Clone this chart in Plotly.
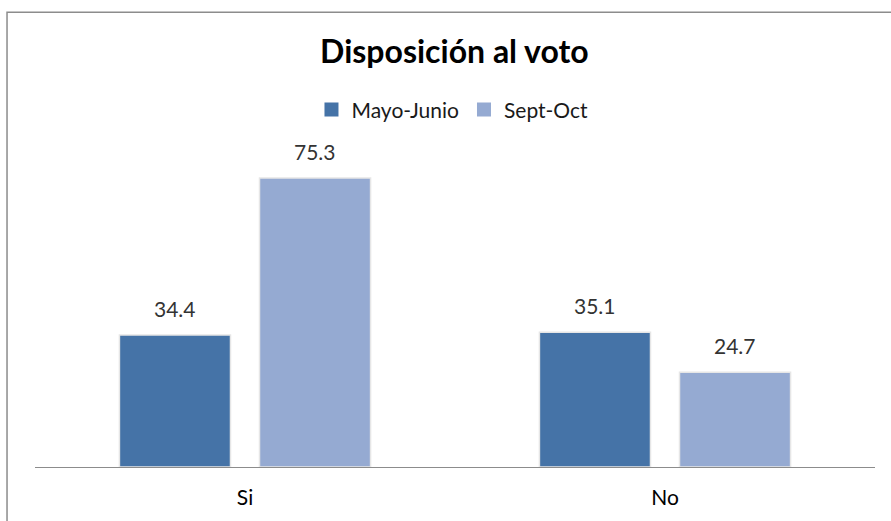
import plotly.graph_objects as go

categories = ["Si", "No"]
series_names = ["Mayo-Junio", "Sept-Oct"]
mayo_junio = [34.4, 35.1]
sept_oct = [75.3, 24.7]
colors = ["#4573A7", "#95AAD2"]

values = [mayo_junio, sept_oct]
xpos = list(range(len(categories)))
FONT = "Lato, 'Open Sans', sans-serif"

fig = go.Figure()
offsets = [-1/6, 1/6]
annotations = []
for name, vals, col, off in zip(series_names, values, colors, offsets):
    fig.add_trace(go.Bar(
        name=name, x=xpos, y=vals, showlegend=False,
        marker=dict(color=col, line=dict(color="#E6E6E6", width=1.5)),
        hoverinfo="skip",
    ))
    for xi, v in zip(xpos, vals):
        annotations.append(dict(
            x=xi + off, y=v, xref="x", yref="y", text=f"{v:.1f}",
            showarrow=False, yanchor="bottom", yshift=12,
            font=dict(family=FONT, size=21, color="#333333"),
        ))

# legend entries with square swatches
for name, col in zip(series_names, colors):
    fig.add_trace(go.Scatter(
        name=name, x=[None], y=[None], mode="markers",
        marker=dict(symbol="square", size=14, color=col),
        showlegend=True,
    ))

fig.update_layout(
    width=891, height=521,
    margin=dict(l=35, r=16, t=140, b=54, autoexpand=False),
    paper_bgcolor="white", plot_bgcolor="white",
    barmode="group", bargap=0.333, bargroupgap=0.207,
    title=dict(text="<b>Disposición al voto</b>", x=0.51, xanchor="center",
               y=0.9, yanchor="middle",
               font=dict(family=FONT, size=32, color="#000000")),
    legend=dict(orientation="h", x=0.497, xanchor="center", y=1.092, yanchor="middle",
                font=dict(family=FONT, size=21, color="#1A1A1A"),
                itemwidth=30, traceorder="normal"),
    xaxis=dict(tickmode="array", tickvals=xpos, ticktext=categories,
               range=[-0.5, len(categories) - 0.5],
               showline=True, linecolor="#8C8C8C", linewidth=1,
               ticks="", showgrid=False, zeroline=False, automargin=False,
               ticklabelstandoff=12,
               tickfont=dict(family=FONT, size=21, color="#000000")),
    yaxis=dict(range=[0, 85.2], visible=False, showgrid=False),
    annotations=annotations,
    shapes=[dict(type="rect", xref="paper", yref="paper",
                 x0=-0.0333, x1=1.03, y0=-0.2, y1=1.391,
                 line=dict(color="#8C8C8C", width=1.5), layer="above")],
)

fig.write_html("out.html", config={"displayModeBar": False},
               post_script="document.body.style.margin='0';")
